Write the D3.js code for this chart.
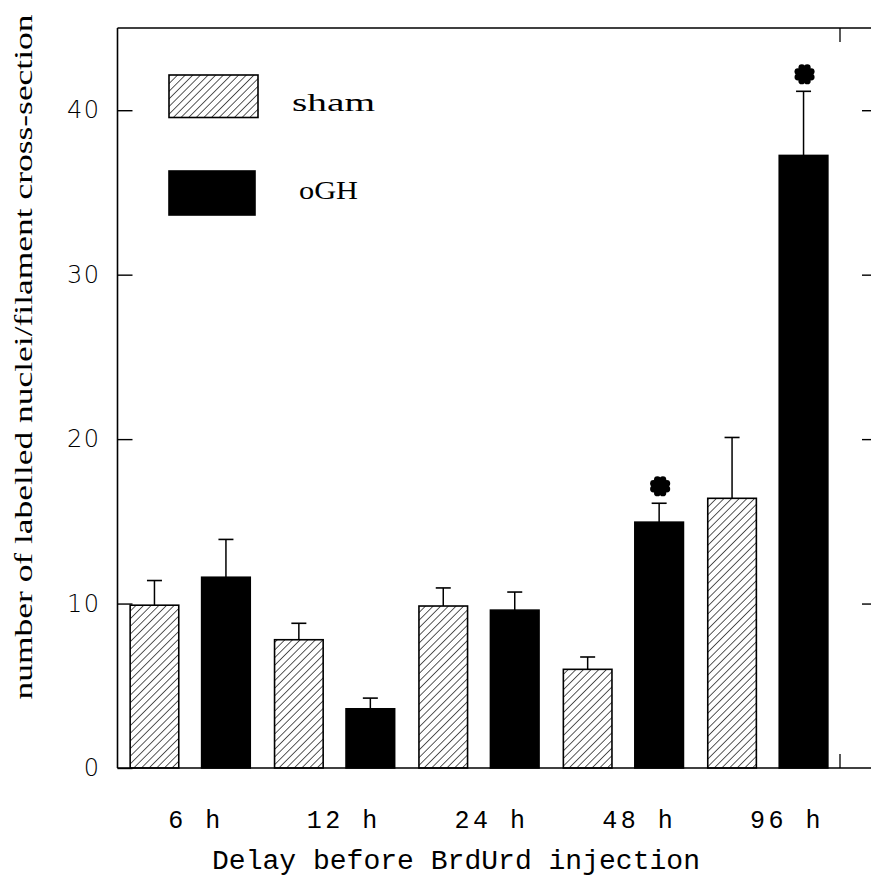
<!DOCTYPE html>
<html>
<head>
<meta charset="utf-8">
<script src="https://cdn.jsdelivr.net/npm/d3@7"></script>
<style>
  body { margin: 0; background: #fff; }
  svg { display: block; }
</style>
</head>
<body>
<svg id="chart" width="871" height="883"></svg>
<script>
const groups = ['6 h', '12 h', '24 h', '48 h', '96 h'];
const series = ['sham', 'oGH'];
const shamMean = [9.9, 7.8, 9.85, 6.0, 16.4];
const shamErr = [1.5, 1.0, 1.1, 0.75, 3.7];
const oghMean = [11.6, 3.6, 9.6, 14.95, 37.25];
const oghErr = [2.3, 0.65, 1.1, 1.15, 3.9];
const oghSignif = [false, false, false, true, true];
const yTicks = [0, 10, 20, 30, 40];

const plotLeft = 117.5, plotTop = 28, plotBottom = 768, plotRight = 871;
const serif = "'Liberation Serif', 'DejaVu Serif', serif";

const svg = d3.select('#chart');

// hatch for sham bars
const defs = svg.append('defs');
defs.append('pattern')
    .attr('id', 'hatch')
    .attr('patternUnits', 'userSpaceOnUse')
    .attr('width', 5.4)
    .attr('height', 10)
    .attr('patternTransform', 'rotate(45)')
  .append('line')
    .attr('x1', 0).attr('y1', 0)
    .attr('x2', 0).attr('y2', 10)
    .attr('stroke', '#000')
    .attr('stroke-width', 1.3);

const y = d3.scaleLinear().domain([0, 45]).range([plotBottom, plotTop]);
const x = d3.scaleBand().domain(groups).range([118, 840]);
const xs = d3.scaleBand().domain(series).range([0, x.bandwidth()])
    .paddingInner(0.32).paddingOuter(0.17);
const xl = d3.scalePoint().domain(groups).range([194, 785]);

const rows = [];
groups.forEach((g, i) => {
    rows.push({ g, s: 'sham', v: shamMean[i], e: shamErr[i], sig: false });
    rows.push({ g, s: 'oGH', v: oghMean[i], e: oghErr[i], sig: oghSignif[i] });
});

// frame lines
svg.append('line')
    .attr('x1', plotLeft).attr('x2', plotLeft).attr('y1', plotTop).attr('y2', plotBottom)
    .attr('stroke', '#000').attr('stroke-width', 1.6);
svg.append('line')
    .attr('x1', plotLeft).attr('x2', plotRight).attr('y1', plotTop).attr('y2', plotTop)
    .attr('stroke', '#000').attr('stroke-width', 1.4);
svg.append('line')
    .attr('x1', plotLeft).attr('x2', plotRight).attr('y1', plotBottom).attr('y2', plotBottom)
    .attr('stroke', '#000').attr('stroke-width', 1.6);

// x ticks at the end of the bar area
[[plotTop, plotTop + 14], [plotBottom, plotBottom - 14]].forEach(([a, b]) => {
    svg.append('line')
        .attr('x1', x.range()[1]).attr('x2', x.range()[1])
        .attr('y1', a).attr('y2', b)
        .attr('stroke', '#000').attr('stroke-width', 1.3);
});

// left axis
const yAxis = svg.append('g')
    .attr('transform', `translate(${plotLeft},0)`)
    .call(d3.axisLeft(y).tickValues(yTicks).tickSizeInner(-15).tickSizeOuter(0).tickPadding(17));
yAxis.select('.domain').remove();
yAxis.selectAll('line').attr('stroke-width', 1.4);
yAxis.selectAll('text')
    .attr('font-family', 'DejaVu Sans')
    .attr('font-weight', 200)
    .attr('font-size', 24)
    .attr('letter-spacing', 1.5)
    .attr('fill', '#000');

// right ticks
const yAxisR = svg.append('g')
    .attr('transform', `translate(${plotRight},0)`)
    .call(d3.axisRight(y).tickValues(yTicks.slice(1)).tickSizeInner(-9).tickSizeOuter(0).tickFormat(''));
yAxisR.select('.domain').remove();
yAxisR.selectAll('line').attr('stroke-width', 1.4);

// bars
svg.append('g').selectAll('rect')
    .data(rows)
    .join('rect')
    .attr('x', d => x(d.g) + xs(d.s))
    .attr('width', xs.bandwidth())
    .attr('y', d => y(d.v))
    .attr('height', d => y(0) - y(d.v))
    .attr('fill', d => d.s === 'sham' ? 'url(#hatch)' : '#000')
    .attr('stroke', '#000')
    .attr('stroke-width', 1.6);

// error bars
const eb = svg.append('g').selectAll('g')
    .data(rows)
    .join('g')
    .attr('transform', d => `translate(${x(d.g) + xs(d.s) + xs.bandwidth() / 2},0)`);
eb.append('line')
    .attr('y1', d => y(d.v)).attr('y2', d => y(d.v + d.e))
    .attr('stroke', '#000').attr('stroke-width', 1.5);
eb.append('line')
    .attr('x1', -7.5).attr('x2', 7.5)
    .attr('y1', d => y(d.v + d.e)).attr('y2', d => y(d.v + d.e))
    .attr('stroke', '#000').attr('stroke-width', 1.6);

// significance marks
const star = eb.filter(d => d.sig).append('g')
    .attr('transform', d => `translate(1,${y(d.v + d.e) - 17})`);
star.append('circle').attr('r', 6.8).attr('fill', '#000');
star.selectAll('.lobe')
    .data(d3.range(8))
    .join('circle')
    .attr('class', 'lobe')
    .attr('cx', k => 7.2 * Math.cos(k * Math.PI / 4 + Math.PI / 8))
    .attr('cy', k => 7.2 * Math.sin(k * Math.PI / 4 + Math.PI / 8))
    .attr('r', 3.4)
    .attr('fill', '#000');

// x tick labels
svg.append('g').selectAll('text')
    .data(groups)
    .join('text')
    .attr('x', d => xl(d) + 2)
    .attr('y', 828)
    .attr('text-anchor', 'middle')
    .attr('font-family', 'Liberation Mono')
    .attr('font-size', 25)
    .attr('letter-spacing', 3.5)
    .text(d => d);

// axis titles
svg.append('text')
    .attr('x', 456).attr('y', 869)
    .attr('text-anchor', 'middle')
    .attr('font-family', 'Liberation Mono')
    .attr('font-size', 27)
    .attr('textLength', 488)
    .attr('lengthAdjust', 'spacingAndGlyphs')
    .text('Delay before BrdUrd injection');

svg.append('text')
    .attr('transform', 'translate(32,357) rotate(-90)')
    .attr('text-anchor', 'middle')
    .attr('font-family', serif)
    .attr('font-size', 26)
    .attr('textLength', 685)
    .attr('lengthAdjust', 'spacingAndGlyphs')
    .text('number of labelled nuclei/filament cross-section');

// legend
const legend = svg.append('g');
const legendRows = [
    { s: 'sham', y0: 75, h: 42.5, w: 89, tx: 292, ty: 111, tw: 83 },
    { s: 'oGH', y0: 171, h: 44, w: 86, tx: 299, ty: 199, tw: 59 }
];
legend.selectAll('rect')
    .data(legendRows)
    .join('rect')
    .attr('x', 169).attr('y', d => d.y0)
    .attr('width', d => d.w).attr('height', d => d.h)
    .attr('fill', d => d.s === 'sham' ? 'url(#hatch)' : '#000')
    .attr('stroke', '#000').attr('stroke-width', 1.6);
legend.selectAll('text')
    .data(legendRows)
    .join('text')
    .attr('x', d => d.tx)
    .attr('y', d => d.ty)
    .attr('font-family', serif)
    .attr('font-size', 25)
    .attr('textLength', d => d.tw)
    .attr('lengthAdjust', 'spacingAndGlyphs')
    .text(d => d.s);
</script>
</body>
</html>
